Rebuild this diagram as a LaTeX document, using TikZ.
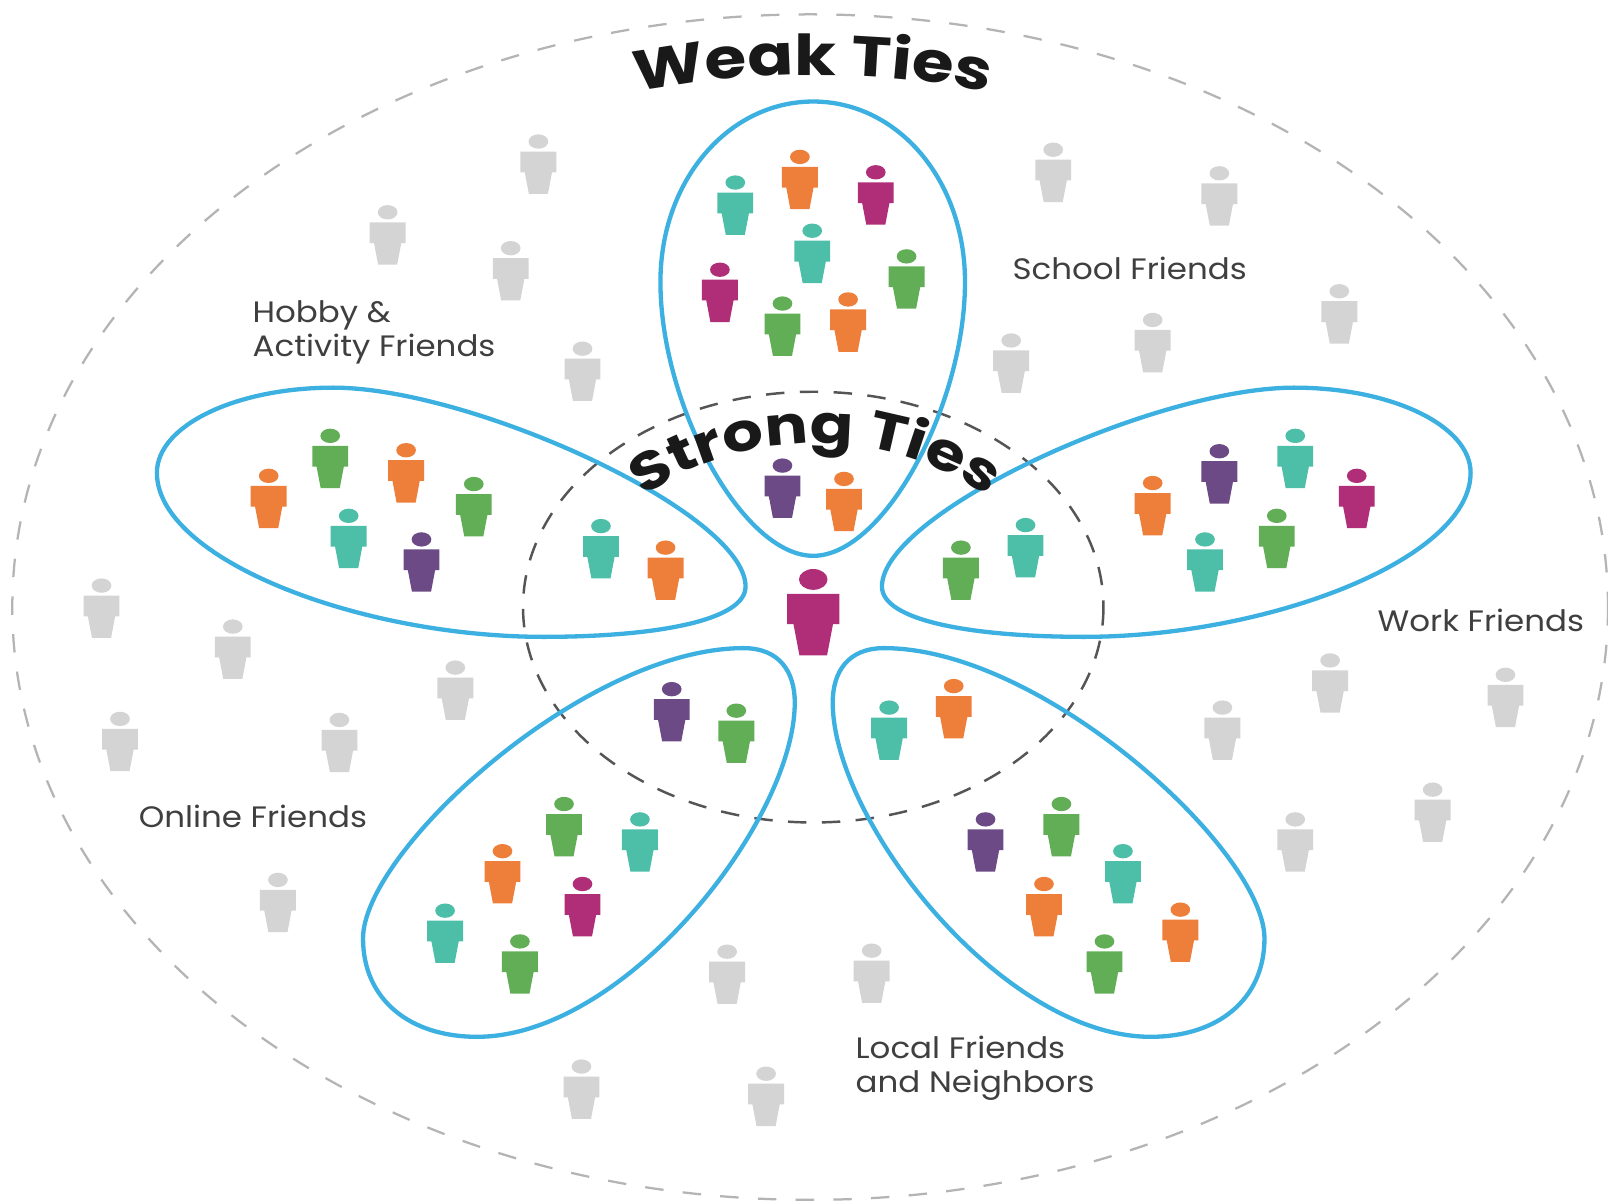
\documentclass[tikz,border=0pt]{standalone}
\usepackage{fontspec}
\setmainfont{Poppins}
\newfontfamily\titlefont[FakeStretch=1.2]{Poppins}
\newfontfamily\labelfont[FakeStretch=1.1]{Poppins}
\usetikzlibrary{decorations.text}
\definecolor{pteal}{HTML}{4DBFA8}
\definecolor{porange}{HTML}{EE7F3B}
\definecolor{pmagenta}{HTML}{B02E78}
\definecolor{pgreen}{HTML}{62AE57}
\definecolor{ppurple}{HTML}{6B4A85}
\definecolor{pgray}{HTML}{D4D4D4}
\definecolor{petalblue}{HTML}{3CB0E0}
\definecolor{labelgray}{HTML}{3F3F3F}
\definecolor{outerdash}{HTML}{B4B4B4}
\definecolor{innerdash}{HTML}{555555}
\tikzset{
  x=0.5pt,y=-0.5pt,
  person/.pic={
    \fill[#1] (0,0) ellipse [x radius=9.6,y radius=7];
    \fill[#1] (-17.5,9.75) -- (17.5,9.75) -- (17.5,30) -- (13.3,30) -- (9.3,51) -- (-9.3,51) -- (-13.3,30) -- (-17.5,30) -- cycle;
  },
  petal/.style={draw=petalblue,line width=2.1pt},
  friendlabel/.style={text=labelgray,font=\labelfont\fontsize{14.4}{16.5}\selectfont,align=left,anchor=west,inner sep=0pt},
}
\begin{document}
\begin{tikzpicture}
\useasboundingbox (0,0) rectangle (1568,1173);
\fill[white] (0,0) rectangle (1568,1173);
% tie circles
\draw[outerdash,line width=1.1pt,dash pattern=on 9pt off 9.4pt] (790,592) ellipse [x radius=778,y radius=578];
\draw[innerdash,line width=1.2pt,dash pattern=on 9pt off 7.5pt] (793,592) ellipse [x radius=283,y radius=210];
% petals
\draw[petal] (793,99) .. controls (875,99) and (941,175) .. (941,275) .. controls (941,395) and (862,542) .. (793,542) .. controls (724,542) and (644,395) .. (644,275) .. controls (644,175) and (711,99) .. (793,99) -- cycle;
\draw[petal] (153,461) .. controls (153,415) and (230,378) .. (325,378) .. controls (460,378) and (727,500) .. (727,572) .. controls (727,605) and (640,621) .. (530,621) .. controls (350,621) and (153,545) .. (153,461) -- cycle;
\draw[petal] (1434,461) .. controls (1434,415) and (1357,378) .. (1262,378) .. controls (1127,378) and (860,500) .. (860,572) .. controls (860,605) and (947,621) .. (1057,621) .. controls (1237,621) and (1434,545) .. (1434,461) -- cycle;
\draw[petal] (354,915) .. controls (354,830) and (570,632) .. (725,632) .. controls (760,632) and (775,655) .. (775,685) .. controls (775,800) and (610,1011) .. (465,1011) .. controls (400,1011) and (354,975) .. (354,915) -- cycle;
\draw[petal] (1233,915) .. controls (1233,830) and (1017,632) .. (862,632) .. controls (827,632) and (812,655) .. (812,685) .. controls (812,800) and (977,1011) .. (1122,1011) .. controls (1187,1011) and (1233,975) .. (1233,915) -- cycle;
% people
\foreach \c/\x/\y in {
pgray/525/138,pgray/378/207,pgray/498/242,pgray/568/340,pgray/1027/146,pgray/1189/169,pgray/1306/284,pgray/1124/312,pgray/986/332,pgray/99/571,pgray/227/611,pgray/444/651,pgray/117/701,pgray/331/702,pgray/1297/644,pgray/1192/690,pgray/1468/658,pgray/1397/770,pgray/1263/799,pgray/271/858,pgray/709/928,pgray/850/927,pgray/567/1040,pgray/747/1047,
pteal/717/178,porange/780/153,pmagenta/854/168,pteal/792/225,pgreen/884/250,pmagenta/702/263,pgreen/763/296,porange/827/292,
ppurple/763/454,porange/823/467,
porange/262/464,pgreen/322/425,porange/396/439,pgreen/462/472,pteal/340/503,ppurple/411/526,pteal/586/513,porange/649/534,
pgreen/937/534,pteal/1000/512,porange/1124/471,ppurple/1189/440,pteal/1263/425,pmagenta/1323/464,pteal/1175/526,pgreen/1245/503,
ppurple/655/672,pgreen/718/693,pgreen/550/784,pteal/624/799,porange/490/830,pmagenta/568/862,pteal/434/888,pgreen/507/918,
pteal/867/690,porange/930/669,ppurple/961/799,pgreen/1035/784,pteal/1095/830,porange/1018/862,porange/1151/887,pgreen/1077/918}
{ \pic at (\x,\y) {person=\c}; }
\pic[scale=1.45] at (793,565) {person=pmagenta};
% curved titles
\path[postaction={decorate},decoration={text along path,text align=center,
  text={|\titlefont\bfseries\fontsize{27.5}{27.5}\selectfont\color{black!90}|Weak Ties}}]
  (610,92) .. controls (720,67) and (865,67) .. (975,92);
\path[postaction={decorate},decoration={text along path,text align=center,
  text={|\titlefont\bfseries\fontsize{26}{26}\selectfont\color{black!90}|Strong Ties}}]
  (620,490) .. controls (720,413) and (870,413) .. (970,490);
% labels
\node[friendlabel] (school) at (987,262) {School Friends};
\node[friendlabel] (hobby) at (246,324) {Hobby \&\\Activity Friends};
\node[friendlabel] (work) at (1343,605) {Work Friends};
\node[friendlabel] (online) at (135,796) {Online Friends};
\node[friendlabel] (local) at (834,1042) {Local Friends\\and Neighbors};
\end{tikzpicture}
\end{document}
